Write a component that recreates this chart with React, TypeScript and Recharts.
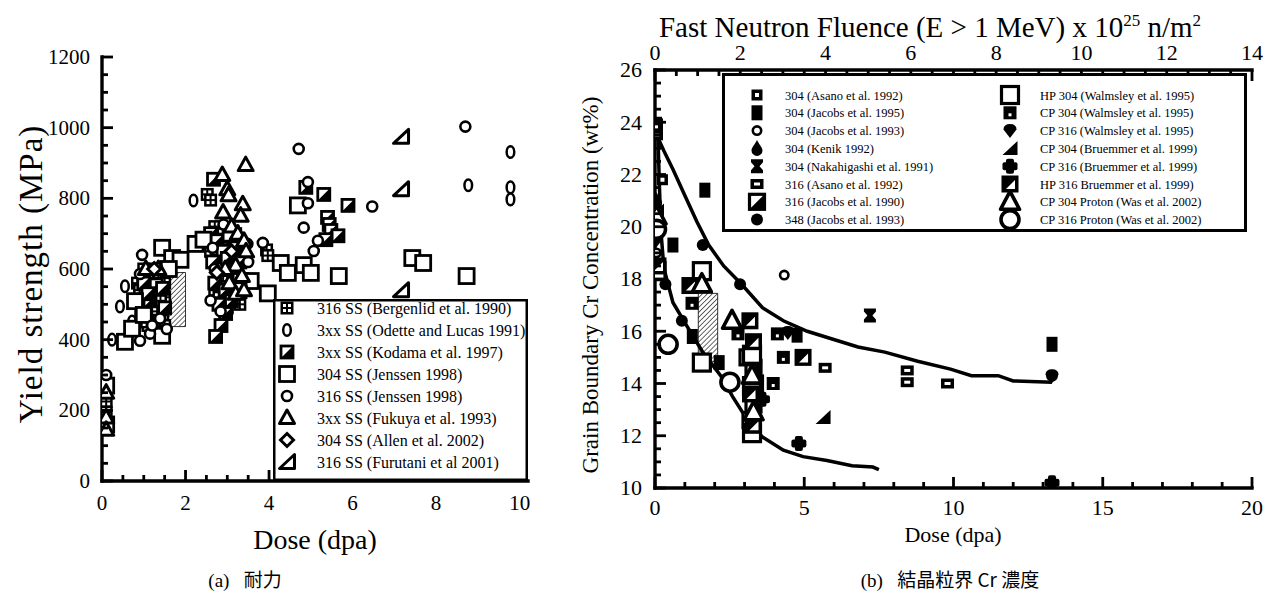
import React from 'react';
import { ScatterChart, Scatter, XAxis, YAxis, ReferenceArea } from 'recharts';

const SERIF = '"Liberation Serif", "Times New Roman", "DejaVu Serif", serif';
const CJK = '"Noto Sans CJK JP", "Noto Sans CJK SC", sans-serif';

type Pt = [number, number];

// ---- (a) yield strength vs dose ----
const doseLabelsA = [0, 2, 4, 6, 8, 10];
const strengthLabels = [0, 200, 400, 600, 800, 1000, 1200];

const bergenlid: Pt[] = [
  [0.1, 225], [0.1, 195],
  [0.95, 575], [1.1, 590], [1.25, 570], [1.4, 585], [1.0, 545], [1.2, 540], [1.35, 520],
  [0.9, 510], [1.05, 495], [1.3, 480], [1.45, 455], [1.15, 460], [1.5, 520],
  [0.85, 560], [1.0, 600], [1.2, 600], [1.35, 590], [1.5, 560], [0.9, 540], [1.1, 560],
  [1.25, 500], [1.4, 510], [1.0, 515], [1.2, 480], [1.35, 455], [1.5, 440], [1.1, 440], [0.95, 450],
  [2.52, 811], [2.6, 795], [2.7, 720], [2.85, 690], [3.0, 660], [3.15, 640], [2.8, 580], [2.95, 520],
  [2.6, 650], [2.75, 640], [2.9, 700], [3.05, 610], [3.2, 700], [3.35, 640], [2.7, 540], [2.9, 580],
  [3.1, 540], [3.3, 500], [2.8, 520], [3.0, 490],
  [3.94, 654], [3.97, 638],
];
const odette: Pt[] = [
  [0.24, 400], [0.43, 494], [0.55, 551], [0.72, 451],
  [2.19, 794], [8.77, 837], [9.78, 931], [9.78, 831], [9.78, 797],
];
const kodama: Pt[] = [
  [1.0, 560], [1.3, 555], [1.15, 510], [1.45, 545], [0.95, 470], [1.25, 430], [1.5, 490], [1.1, 530],
  [2.67, 854], [2.6, 700], [2.75, 680], [2.9, 650], [3.05, 700], [3.2, 660], [2.65, 620], [2.85, 600],
  [3.0, 630], [3.15, 590], [3.3, 620], [2.7, 560], [2.95, 540], [3.1, 510], [3.25, 560], [2.8, 500],
  [2.96, 474], [2.85, 440], [2.72, 409],
  [4.88, 831], [5.31, 811], [5.89, 780], [5.4, 746], [5.44, 726], [5.48, 709], [5.65, 694], [5.36, 683],
];
const jenssen304: Pt[] = [
  [0.1, 270], [0.1, 160], [0.55, 394], [0.79, 509], [0.72, 431], [1.0, 470],
  [1.44, 660], [1.68, 631], [1.88, 626], [1.44, 411], [1.6, 600],
  [2.24, 671], [2.43, 683], [3.08, 700], [3.32, 566], [3.56, 566], [3.27, 540], [3.97, 531],
  [4.28, 617], [4.45, 589], [4.69, 780], [4.83, 611], [5.0, 589], [5.67, 580],
  [7.43, 631], [7.69, 617], [8.73, 580],
];
const jenssen316: Pt[] = [
  [0.1, 300], [0.91, 397], [0.91, 586], [0.96, 640], [1.15, 417], [1.39, 460], [1.2, 440], [1.55, 430],
  [2.6, 511], [2.84, 480], [2.91, 726], [2.65, 660], [2.7, 600], [3.48, 671], [3.5, 620],
  [3.85, 674], [4.71, 940], [4.93, 846], [4.93, 786], [4.83, 717], [5.17, 680], [5.07, 651],
  [6.47, 777], [8.7, 1003],
];
const fukuya: Pt[] = [
  [0.1, 250], [0.1, 180], [0.1, 145], [1.05, 600], [1.35, 600],
  [2.88, 866], [3.0, 826], [3.03, 809], [3.44, 894], [2.9, 760], [3.37, 783], [3.32, 751],
  [3.1, 720], [3.25, 700], [3.4, 680], [3.45, 650], [3.2, 610], [3.35, 580], [3.05, 560],
  [3.2, 530], [3.4, 540], [2.95, 600],
];
const allen: Pt[] = [[1.25, 600], [2.75, 590], [3.1, 650]];
const furutani: Pt[] = [[7.16, 974], [7.16, 826], [7.16, 540]];
const bandA = { x1: 1.6, x2: 2.0, y1: 437, y2: 590 };

// ---- (b) grain boundary Cr vs dose ----
const doseLabelsB = [0, 5, 10, 15, 20];
const fluenceLabels = [0, 2, 4, 6, 8, 10, 12, 14];
const crLabels = [10, 12, 14, 16, 18, 20, 22, 24, 26];

const asano304: Pt[] = [[0.05, 24.0], [0.25, 21.8]];
const jacobs95: Pt[] = [[0.05, 23.7], [0.6, 19.3], [1.67, 21.4], [1.25, 15.8], [2.15, 14.8], [4.76, 15.85], [13.3, 15.5]];
const jacobs93: Pt[] = [[0.05, 19.0], [4.33, 18.15]];
const kenik: Pt[] = [[0.05, 21.0]];
const nakahigashi: Pt[] = [[7.2, 16.6]];
const asano316: Pt[] = [[0.05, 23.5], [5.7, 14.6], [8.45, 14.5], [8.45, 14.05], [9.8, 14.0]];
const jacobs90: Pt[] = [[3.3, 14.6], [3.35, 14.0], [3.3, 13.2], [3.2, 12.6], [3.1, 15.0]];
const jacobs348: Pt[] = [[0.35, 17.8], [0.9, 16.4], [1.6, 19.3], [2.85, 17.8], [1.55, 14.9], [13.3, 14.3]];
const hp304W: Pt[] = [[0.05, 18.3], [1.57, 18.3], [1.57, 14.8], [3.25, 15.1], [3.25, 13.9], [3.25, 12.1]];
const cp304W: Pt[] = [[0.05, 23.9], [1.24, 17.07], [2.78, 15.9], [4.1, 15.9], [4.3, 15.0], [3.96, 14.0]];
const cp316W: Pt[] = [[0.05, 19.5], [4.45, 15.95], [13.3, 14.3]];
const cp304B: Pt[] = [[0.05, 20.6], [5.63, 12.7]];
const cp316B: Pt[] = [[0.05, 20.2], [3.6, 13.4], [4.82, 11.7], [13.3, 10.2]];
const hp316B: Pt[] = [[0.1, 18.5], [1.17, 17.75], [3.18, 16.4], [3.3, 15.6], [3.2, 13.6], [3.3, 12.4], [4.96, 15.0]];
const was304: Pt[] = [[0.05, 20.4], [1.57, 17.8], [2.58, 16.4], [3.25, 14.3], [3.3, 12.9]];
const was316: Pt[] = [[0.05, 19.9], [0.44, 15.5], [2.51, 14.05]];

const upperCurve: Pt[] = [
  [0.1, 23.4], [0.3, 22.9], [0.6, 22.2], [1.0, 21.2], [1.4, 20.2], [1.8, 19.3], [2.3, 18.5],
  [2.9, 17.8], [3.6, 16.9], [4.3, 16.4], [5.1, 16.0], [5.8, 15.75], [6.8, 15.4], [7.7, 15.2],
  [8.8, 14.85], [9.9, 14.55], [10.6, 14.3], [11.5, 14.3], [12.0, 14.1], [13.3, 14.05],
];
const lowerCurve: Pt[] = [
  [0.1, 23.4], [0.15, 21.5], [0.2, 19.8], [0.3, 18.4], [0.6, 17.1], [1.07, 16.2], [1.6, 15.2],
  [2.2, 14.3], [2.6, 13.5], [3.1, 12.6], [3.6, 11.95], [4.3, 11.45], [4.96, 11.2], [5.76, 11.05],
  [6.6, 10.85], [7.3, 10.8], [7.5, 10.7],
];
const bandB = { x1: 1.45, x2: 2.1, y1: 14.85, y2: 17.45 };

const seriesA = [
  { name: '316 SS (Bergenlid et al. 1990)', kind: 'bergen', data: bergenlid },
  { name: '3xx SS (Odette and Lucas 1991)', kind: 'odette', data: odette },
  { name: '3xx SS (Kodama et al. 1997)', kind: 'kodama', data: kodama },
  { name: '304 SS (Jenssen 1998)', kind: 'jen304', data: jenssen304 },
  { name: '316 SS (Jenssen 1998)', kind: 'jen316', data: jenssen316 },
  { name: '3xx SS (Fukuya et al. 1993)', kind: 'fukuya', data: fukuya },
  { name: '304 SS (Allen et al. 2002)', kind: 'allen', data: allen },
  { name: '316 SS (Furutani et al 2001)', kind: 'furutani', data: furutani },
];
const seriesB = [
  { name: '304 (Asano et al. 1992)', kind: 'asano304', data: asano304 },
  { name: '304 (Jacobs et al. 1995)', kind: 'jac95', data: jacobs95 },
  { name: '304 (Jacobs et al. 1993)', kind: 'jac93', data: jacobs93 },
  { name: '304 (Kenik 1992)', kind: 'kenik', data: kenik },
  { name: '304 (Nakahigashi et al. 1991)', kind: 'naka', data: nakahigashi },
  { name: '316 (Asano et al. 1992)', kind: 'asano316', data: asano316 },
  { name: '316 (Jacobs et al. 1990)', kind: 'jac90', data: jacobs90 },
  { name: '348 (Jacobs et al. 1993)', kind: 'jac348', data: jacobs348 },
  { name: 'HP 304 (Walmsley et al. 1995)', kind: 'hp304', data: hp304W },
  { name: 'CP 304 (Walmsley et al. 1995)', kind: 'cp304w', data: cp304W },
  { name: 'CP 316 (Walmsley et al. 1995)', kind: 'cp316w', data: cp316W },
  { name: 'CP 304 (Bruemmer et al. 1999)', kind: 'cp304b', data: cp304B },
  { name: 'CP 316 (Bruemmer et al. 1999)', kind: 'cp316b', data: cp316B },
  { name: 'HP 316 Bruemmer et al. 1999)', kind: 'hp316b', data: hp316B },
  { name: 'CP 304 Proton (Was et al. 2002)', kind: 'was304', data: was304 },
  { name: 'CP 316 Proton (Was et al. 2002)', kind: 'was316', data: was316 },
];

const toXY = (a: Pt[]) => a.map(([x, y]) => ({ x, y }));
const range = (a: number, b: number, s: number) => {
  const r: number[] = [];
  for (let v = a; v <= b + 1e-9; v += s) r.push(Math.round(v * 1000) / 1000);
  return r;
};

const B = '#000';
const W = '#fff';

function Glyph({ k, x, y }: { k: string; x: number; y: number }) {
  switch (k) {
    case 'bergen':
      return (
        <g>
          <rect x={x - 6.5} y={y - 6.5} width={13} height={13} fill={B} />
          <rect x={x - 4} y={y - 4} width={3} height={3} fill={W} />
          <rect x={x + 1} y={y - 4} width={3} height={3} fill={W} />
          <rect x={x - 4} y={y + 1} width={3} height={3} fill={W} />
          <rect x={x + 1} y={y + 1} width={3} height={3} fill={W} />
        </g>
      );
    case 'odette':
      return <ellipse cx={x} cy={y} rx={3.8} ry={5.8} fill={W} stroke={B} strokeWidth={2.5} />;
    case 'kodama':
      return (
        <g>
          <rect x={x - 6} y={y - 6} width={12} height={12} fill={W} stroke={B} strokeWidth={2.8} />
          <polygon points={`${x + 6},${y - 6} ${x + 6},${y + 6} ${x - 6},${y + 6}`} fill={B} />
        </g>
      );
    case 'jen304':
      return <rect x={x - 7.5} y={y - 7.5} width={15} height={15} fill={W} stroke={B} strokeWidth={2.8} />;
    case 'jen316':
      return <circle cx={x} cy={y} r={5} fill={W} stroke={B} strokeWidth={2.6} />;
    case 'fukuya':
      return <polygon points={`${x},${y - 8} ${x + 7.5},${y + 5.5} ${x - 7.5},${y + 5.5}`} fill={W} stroke={B} strokeWidth={3} strokeLinejoin="round" />;
    case 'allen':
      return <polygon points={`${x},${y - 6.5} ${x + 6.5},${y} ${x},${y + 6.5} ${x - 6.5},${y}`} fill={W} stroke={B} strokeWidth={3} />;
    case 'furutani':
      return <polygon points={`${x - 7.5},${y + 6.5} ${x + 7.5},${y + 6.5} ${x + 7.5},${y - 7.5}`} fill={W} stroke={B} strokeWidth={3} strokeLinejoin="round" />;
    case 'asano304':
      return (
        <g>
          <rect x={x - 5.5} y={y - 5.5} width={11} height={11} fill={B} />
          <rect x={x - 2} y={y - 2} width={4} height={4} fill={W} />
        </g>
      );
    case 'jac95':
      return <rect x={x - 5.5} y={y - 7.5} width={11} height={15} fill={B} />;
    case 'jac93':
      return <circle cx={x} cy={y} r={4.2} fill={W} stroke={B} strokeWidth={2.6} />;
    case 'kenik':
      return <path d={`M${x},${y - 8.5} C${x + 2},${y - 4} ${x + 5.5},${y - 1} ${x + 5.5},${y + 2} A5.5,5.5 0 0 1 ${x - 5.5},${y + 2} C${x - 5.5},${y - 1} ${x - 2},${y - 4} ${x},${y - 8.5} Z`} fill={B} />;
    case 'naka':
      return (
        <polygon
          points={`${x - 6},${y - 7} ${x + 6},${y - 7} ${x + 6},${y - 4} ${x + 2.5},${y} ${x + 6},${y + 4} ${x + 6},${y + 7} ${x - 6},${y + 7} ${x - 6},${y + 4} ${x - 2.5},${y} ${x - 6},${y - 4}`}
          fill={B}
        />
      );
    case 'asano316':
      return (
        <g>
          <rect x={x - 6.5} y={y - 5} width={13} height={10} fill={B} />
          <rect x={x - 3} y={y - 1.5} width={6} height={3} fill={W} />
        </g>
      );
    case 'jac90':
      return (
        <g>
          <rect x={x - 7.5} y={y - 7.5} width={15} height={15} fill={W} stroke={B} strokeWidth={3.2} />
          <polygon points={`${x + 7.5},${y - 7.5} ${x + 7.5},${y + 7.5} ${x - 7.5},${y + 7.5}`} fill={B} />
        </g>
      );
    case 'jac348':
      return <circle cx={x} cy={y} r={6} fill={B} />;
    case 'hp304':
      return <rect x={x - 8.5} y={y - 8.5} width={17} height={17} fill={W} stroke={B} strokeWidth={3.2} />;
    case 'cp304w':
      return (
        <g>
          <rect x={x - 6.5} y={y - 6.5} width={13} height={13} fill={B} />
          <rect x={x - 1.5} y={y + 0.5} width={3} height={3} fill={W} />
        </g>
      );
    case 'cp316w':
      return <path d={`M${x - 6.5},${y - 1} Q${x - 6.5},${y - 6.5} ${x},${y - 6.5} Q${x + 6.5},${y - 6.5} ${x + 6.5},${y - 1} L${x},${y + 7.5} Z`} fill={B} />;
    case 'cp304b':
      return <polygon points={`${x - 7.5},${y + 6.5} ${x + 7.5},${y + 6.5} ${x + 7.5},${y - 7.5}`} fill={B} />;
    case 'cp316b':
      return (
        <g>
          <rect x={x - 4} y={y - 7.5} width={8} height={15} rx={2} fill={B} />
          <rect x={x - 7.5} y={y - 4} width={15} height={8} rx={2} fill={B} />
        </g>
      );
    case 'hp316b':
      return (
        <g>
          <rect x={x - 8.5} y={y - 8.5} width={17} height={17} fill={B} />
          <polygon points={`${x - 4},${y + 5} ${x + 5},${y + 5} ${x + 5},${y - 4}`} fill={W} />
        </g>
      );
    case 'was304':
      return <polygon points={`${x},${y - 10.5} ${x + 9.5},${y + 7.5} ${x - 9.5},${y + 7.5}`} fill={W} stroke={B} strokeWidth={3.6} strokeLinejoin="round" />;
    case 'was316':
      return <circle cx={x} cy={y} r={9} fill={W} stroke={B} strokeWidth={3.6} />;
    default:
      return <g />;
  }
}

const glyphShape = (k: string) => (p: any) => <Glyph k={k} x={p.cx} y={p.cy} />;
const noMark = () => <g />;

// inward tick marks drawn at the axis line, labels outside
function makeTick(side: string, isMajor: (v: number) => boolean, labels: number[], fontSize: number, gap: number) {
  return (props: any) => {
    const { x, y, payload } = props;
    const v = payload.value as number;
    const len = isMajor(v) ? 11 : 6;
    const show = labels.some((l) => Math.abs(l - v) < 1e-6);
    let line;
    let text = null;
    const ts = { fontFamily: SERIF, fontSize, fill: B, stroke: 'none' };
    if (side === 'bottom') {
      line = <line x1={x} x2={x} y1={y} y2={y - len} />;
      if (show) text = <text x={x} y={y + gap + fontSize * 0.7} textAnchor="middle" style={ts}>{v}</text>;
    } else if (side === 'top') {
      line = <line x1={x} x2={x} y1={y} y2={y + len} />;
      if (show) text = <text x={x} y={y - gap} textAnchor="middle" style={ts}>{v}</text>;
    } else if (side === 'left') {
      line = <line x1={x} x2={x + len} y1={y} y2={y} />;
      if (show) text = <text x={x - gap} y={y + fontSize * 0.34} textAnchor="end" style={ts}>{v}</text>;
    } else {
      line = <line x1={x} x2={x - len} y1={y} y2={y} />;
    }
    return (
      <g>
        <g stroke={B} strokeWidth={2.8}>{line}</g>
        {text}
      </g>
    );
  };
}

const frame = { stroke: B, strokeWidth: 3.4, strokeLinecap: 'square' as const };

function YieldChart() {
  const xt = range(0, 10, 0.5);
  const yt = range(0, 1200, 50);
  const xMaj = (v: number) => v % 2 === 0;
  const yMaj = (v: number) => v % 200 === 0;
  return (
    <ScatterChart width={560} height={594} margin={{ top: 57, right: 32, bottom: 83, left: 42 }}>
      <XAxis type="number" dataKey="x" domain={[0, 10.2]} allowDataOverflow ticks={xt} interval={0} height={30}
        tickSize={0} tickMargin={0} axisLine={frame} tickLine={false} tick={makeTick('bottom', xMaj, doseLabelsA, 21, 14)} />
      <XAxis xAxisId="t" orientation="top" type="number" dataKey="x" domain={[0, 10.2]} allowDataOverflow ticks={xt} interval={0} height={0}
        tickSize={0} tickMargin={0} axisLine={frame} tickLine={false} tick={makeTick('top', xMaj, [], 21, 0)} />
      <YAxis type="number" dataKey="y" domain={[0, 1200]} allowDataOverflow ticks={yt} interval={0} width={60}
        tickSize={0} tickMargin={0} axisLine={frame} tickLine={false} tick={makeTick('left', yMaj, strengthLabels, 21, 12)} />
      <YAxis yAxisId="r" orientation="right" type="number" dataKey="y" domain={[0, 1200]} allowDataOverflow ticks={yt} interval={0} width={0}
        tickSize={0} tickMargin={0} axisLine={frame} tickLine={false} tick={makeTick('right', yMaj, [], 21, 0)} />
      {seriesA.map((s) => (
        <Scatter key={s.name} name={s.name} data={toXY(s.data)} shape={glyphShape(s.kind)} isAnimationActive={false} />
      ))}
      <ReferenceArea x1={bandA.x1} x2={bandA.x2} y1={bandA.y1} y2={bandA.y2} fill="url(#hatch)" fillOpacity={1} stroke={B} strokeWidth={0.8} />
    </ScatterChart>
  );
}

function CrChart() {
  const xt = range(0, 20, 1);
  const ft = range(0, 14, 0.5);
  const yt = range(10, 26, 0.5);
  const yMaj = (v: number) => v % 2 === 0;
  // invisible anchor points so the fluence axis owns a data range
  const fluAnchor = fluenceLabels.map((f) => ({ x: f, y: 26 }));
  return (
    <ScatterChart width={710} height={594} margin={{ top: 45, right: 18, bottom: 76, left: 30 }}>
      <XAxis type="number" dataKey="x" domain={[0, 20]} allowDataOverflow ticks={xt} interval={0} height={30}
        tickSize={0} tickMargin={0} axisLine={frame} tickLine={false} tick={makeTick('bottom', (v) => v % 5 === 0, doseLabelsB, 22, 12)} />
      <XAxis xAxisId="flu" orientation="top" type="number" dataKey="x" domain={[0, 14]} allowDataOverflow ticks={ft} interval={0} height={25}
        tickSize={0} tickMargin={0} axisLine={frame} tickLine={false} tick={makeTick('top', (v) => v % 2 === 0, fluenceLabels, 22, 10)} />
      <YAxis type="number" dataKey="y" domain={[10, 26]} allowDataOverflow ticks={yt} interval={0} width={65}
        tickSize={0} tickMargin={0} axisLine={frame} tickLine={false} tick={makeTick('left', yMaj, crLabels, 22, 13)} />
      <YAxis yAxisId="r" orientation="right" type="number" dataKey="y" domain={[10, 26]} allowDataOverflow ticks={yt} interval={0} width={0}
        tickSize={0} tickMargin={0} axisLine={frame} tickLine={false} tick={makeTick('right', yMaj, [], 22, 0)} />
      <Scatter name="fluence" xAxisId="flu" data={fluAnchor} shape={noMark} legendType="none" isAnimationActive={false} />
      <Scatter name="upper" data={toXY(upperCurve)} line={{ stroke: B, strokeWidth: 3.5 }} shape={noMark} legendType="none" isAnimationActive={false} />
      <Scatter name="lower" data={toXY(lowerCurve)} line={{ stroke: B, strokeWidth: 3.5 }} shape={noMark} legendType="none" isAnimationActive={false} />
      {seriesB.map((s) => (
        <Scatter key={s.name} name={s.name} data={toXY(s.data)} shape={glyphShape(s.kind)} isAnimationActive={false} />
      ))}
      <ReferenceArea x1={bandB.x1} x2={bandB.x2} y1={bandB.y1} y2={bandB.y2} fill="url(#hatch)" fillOpacity={1} stroke={B} strokeWidth={0.8} />
    </ScatterChart>
  );
}

const abs = (left: number, top: number): React.CSSProperties => ({ position: 'absolute', left, top });
const legendText = (size: number): React.CSSProperties => ({ fontFamily: SERIF, fontSize: size, fill: B });

export default function App() {
  return (
    <div style={{ position: 'absolute', left: 0, top: 0, width: 1270, height: 594, background: W, fontFamily: SERIF, color: B, overflow: 'hidden' }}>
      <svg width={0} height={0} style={{ position: 'absolute' }}>
        <defs>
          <pattern id="hatch" width={3.5} height={3.5} patternUnits="userSpaceOnUse" patternTransform="rotate(45)">
            <rect width={3.5} height={3.5} fill={W} />
            <line x1={0} y1={0} x2={0} y2={3.5} stroke="#444" strokeWidth={1.6} />
          </pattern>
        </defs>
      </svg>

      <div style={abs(0, 0)}><YieldChart /></div>
      <div style={abs(560, 0)}><CrChart /></div>

      {/* legend (a) */}
      <svg style={abs(273, 299)} width={255} height={182}>
        <rect x={1.25} y={1.25} width={252.5} height={179.5} fill={W} stroke={B} strokeWidth={2.5} />
        {seriesA.map((s, i) => (
          <g key={s.name}>
            <Glyph k={s.kind} x={14} y={9 + 22 * i} />
            <text x={44} y={9 + 22 * i + 5.5} style={legendText(16)}>{s.name}</text>
          </g>
        ))}
      </svg>

      {/* legend (b) */}
      <svg style={abs(722, 73)} width={525} height={159}>
        <rect x={1.5} y={1.5} width={522} height={156} fill={W} stroke={B} strokeWidth={3} />
        {seriesB.map((s, i) => {
          const col = i < 8 ? 0 : 1;
          const row = i % 8;
          const mx = col === 0 ? 35 : 288;
          const tx = col === 0 ? 63 : 318;
          const cy = 22 + 17.8 * row;
          return (
            <g key={s.name}>
              <Glyph k={s.kind} x={mx} y={cy} />
              <text x={tx} y={cy + 4.5} style={legendText(12.5)}>{s.name}</text>
            </g>
          );
        })}
      </svg>

      {/* axis titles */}
      <div style={{ ...abs(31, 274), transform: 'translate(-50%, -50%) rotate(-90deg)', whiteSpace: 'nowrap', fontSize: 33, letterSpacing: 1 }}>
        Yield strength (MPa)
      </div>
      <div style={{ ...abs(315, 540), transform: 'translate(-50%, -50%)', whiteSpace: 'nowrap', fontSize: 28 }}>
        Dose (dpa)
      </div>
      <div style={{ ...abs(591, 285), transform: 'translate(-50%, -50%) rotate(-90deg)', whiteSpace: 'nowrap', fontSize: 23 }}>
        Grain Boundary Cr Concentration (wt%)
      </div>
      <div style={{ ...abs(930, 27), transform: 'translate(-50%, -50%)', whiteSpace: 'nowrap', fontSize: 29 }}>
        Fast Neutron Fluence (E &gt; 1 MeV) x 10<sup style={{ fontSize: 17 }}>25</sup> n/m<sup style={{ fontSize: 17 }}>2</sup>
      </div>
      <div style={{ ...abs(953, 535), transform: 'translate(-50%, -50%)', whiteSpace: 'nowrap', fontSize: 22 }}>
        Dose (dpa)
      </div>

      {/* captions */}
      <div style={{ ...abs(245, 578), transform: 'translate(-50%, -50%)', whiteSpace: 'nowrap', fontSize: 19 }}>
        (a)&nbsp;&nbsp;&nbsp;<span style={{ fontFamily: CJK }}>耐力</span>
      </div>
      <div style={{ ...abs(950, 578), transform: 'translate(-50%, -50%)', whiteSpace: 'nowrap', fontSize: 19 }}>
        (b)&nbsp;&nbsp;&nbsp;<span style={{ fontFamily: CJK }}>結晶粒界 Cr 濃度</span>
      </div>
    </div>
  );
}
